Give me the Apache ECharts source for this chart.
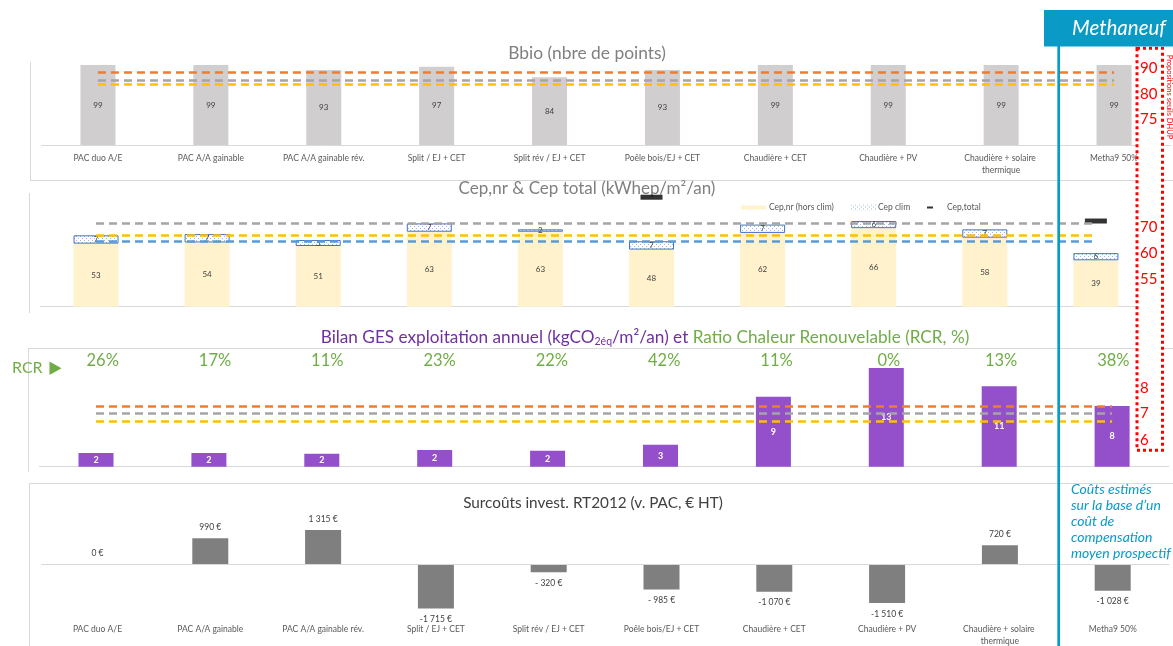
<!DOCTYPE html>
<html><head><meta charset="utf-8">
<script src="https://cdn.jsdelivr.net/npm/echarts@6/dist/echarts.min.js"></script>
<style>html,body{margin:0;padding:0;background:#fff}#c{width:1173px;height:646px}</style>
</head><body><div id="c"></div>
<script>
// ---------- DATA ----------
const categories = ['PAC duo A/E','PAC A/A gainable','PAC A/A gainable rév.','Split / EJ + CET','Split rév / EJ + CET','Poêle bois/EJ + CET','Chaudière + CET','Chaudière + PV','Chaudière + solaire thermique','Metha9 50%'];
const bbio = [99,99,93,97,84,93,99,99,99,99];
const bbioSeuils = [90,80,75];
const cepNr = [53,54,51,63,63,48,62,66,58,39];
const cepClim = [7,7,5,7,2,7,7,6,7,6];
const cepTotal = [null,null,null,null,null,92,null,null,null,72];
const cepSeuils = [70,60,55];
const ges = [1.8,1.8,1.7,2.2,2.1,2.9,9.2,13.0,10.6,8.0];
const gesSeuils = [8,7,6];
const rcr = [26,17,11,23,22,42,11,0,13,38];
const surcout = [0,990,1315,-1715,-320,-985,-1070,-1510,720,-1028];
const seuilLabels = ['90','80','75','70','60','55','8','7','6'];
const noteLines = ['Coûts estimés','sur la base d’un','coût de','compensation','moyen prospectif'];

// ---------- STYLE ----------
const FONT = 'Lato, "Open Sans", sans-serif';
const BLUE = '#0A9AC6';
const GREY_LINE = '#D9D9D9';
const C_OR = '#ED7D31', C_GR = '#A5A5A5', C_YE = '#FFC000', C_BL = '#5B9BD5';

const pc = document.createElement('canvas'); pc.width = 4; pc.height = 4;
const g = pc.getContext('2d');
g.fillStyle = '#ffffff'; g.fillRect(0,0,4,4);
g.fillStyle = '#9DB5E0'; g.fillRect(0,0,1,1); g.fillRect(2,2,1,1);

function seuilLines(vals, colors){
  return {
    silent: true, symbol: 'none', label: {show:false},
    lineStyle: {type:[8,5], width:2.5},
    data: vals.map((v,i)=>[
      {coord:[categories[0], v], lineStyle:{color:colors[i], type:[8,5], width:2.5}},
      {coord:[categories[categories.length-1], v]}
    ])
  };
}
function fmtEuro(v){
  const a = Math.abs(v);
  const s = a >= 1000 ? Math.floor(a/1000) + ' ' + String(a%1000).padStart(3,'0') : String(a);
  if (v < 0) return (a >= 1000 ? '-' : '- ') + s + ' €';
  return s + ' €';
}
const catLabel = {interval:0, fontFamily:FONT, fontSize:8.5, color:'#595959', width:100, overflow:'break', lineHeight:12};

const chart = echarts.init(document.getElementById('c'), null, {renderer:'canvas'});

const graphic = [];
function hline(x1,x2,y){ graphic.push({type:'line', silent:true, shape:{x1,y1:y,x2,y2:y}, style:{stroke:GREY_LINE, lineWidth:1}}); }
function vline(x,y1,y2){ graphic.push({type:'line', silent:true, shape:{x1:x,y1,x2:x,y2}, style:{stroke:GREY_LINE, lineWidth:1}}); }
vline(30.5,62,180); hline(30,1173,180.5);
vline(29.5,193,313);
hline(28,1173,348.5); vline(28.5,348,472);
hline(29,1173,483.5); vline(29.5,483,646);

function text(x,y,t,o){ graphic.push(Object.assign({type:'text', x, y, silent:true, style:Object.assign({text:t, fontFamily:FONT, align:'center', verticalAlign:'middle'}, o.style||{})}, o.el||{})); }
text(587,53,'Bbio (nbre de points)',{style:{fontSize:17.4, fill:'#808080'}});
text(587,189,'Cep,nr & Cep total (kWhep/m²/an)',{style:{fontSize:17, fill:'#808080'}});
graphic.push({type:'text', x:645, y:337, silent:true, style:{
  text:'{p|Bilan GES exploitation annuel (kgCO}{s|2éq}{p|/m²/an) et}{g| Ratio Chaleur Renouvelable (RCR, %)}',
  align:'center', verticalAlign:'middle', fontFamily:FONT,
  rich:{
    p:{fontFamily:FONT, fontSize:17.2, fill:'#7030A0', lineHeight:20},
    s:{fontFamily:FONT, fontSize:10.5, fill:'#7030A0', lineHeight:10, verticalAlign:'bottom'},
    g:{fontFamily:FONT, fontSize:17.2, fill:'#70AD47', lineHeight:20}
  }}});
text(593,503,'Surcoûts invest. RT2012 (v. PAC, € HT)',{style:{fontSize:15.3, fill:'#404040'}});
text(12,368,'RCR',{style:{fontSize:16, fill:'#70AD47', align:'left'}});
graphic.push({type:'polygon', silent:true, shape:{points:[[49.5,361.5],[49.5,375],[61.5,368.2]]}, style:{fill:'#70AD47'}});

// overlays (right side)
graphic.push({type:'rect', z:100, silent:true, shape:{x:1060,y:484.5,width:113,height:76}, style:{fill:'#fff'}});
graphic.push({type:'text', z:101, x:1071, y:481, silent:true, style:{text:noteLines.join('\n'), fontFamily:FONT, fontStyle:'italic', fontSize:14, lineHeight:16.2, fill:BLUE, align:'left', verticalAlign:'top'}});
graphic.push({type:'line', z:102, silent:true, shape:{x1:1058.7,y1:46,x2:1058.7,y2:646}, style:{stroke:BLUE, lineWidth:2.7}});
graphic.push({type:'rect', z:102, silent:true, shape:{x:1044,y:10,width:129,height:36.5}, style:{fill:BLUE}});
text(1119,28,'Methaneuf',{el:{z:103}, style:{fontSize:20.5, fontStyle:'italic', fill:'#fff'}});
graphic.push({type:'rect', z:100, silent:true, shape:{x:1137,y:48.2,width:25.5,height:402}, style:{fill:'#fff', stroke:'#FF0000', lineWidth:3, lineDash:[3,3]}});
const seuilY = [68,94,119,227,253,279,388,413,440];
seuilLabels.forEach((t,i)=> text(1140, seuilY[i], t, {el:{z:103}, style:{fontSize:15, fill:'#FF0000', align:'left'}}));
text(1169,97,'Propositions seuils DHUP',{el:{z:103, rotation:-Math.PI/2}, style:{fontSize:7.5, fill:'#FF0000'}});

const option = {
  animation:false,
  backgroundColor:'#fff',
  textStyle:{fontFamily:FONT},
  grid:[
    {left:41.5, width:1129, top:64.3, height:80.7, outerBoundsMode:'none', containLabel:false},
    {left:40.45, width:1111, top:187.7, height:119, outerBoundsMode:'none', containLabel:false},
    {left:39.55, width:1129, top:345.1, height:121.6, outerBoundsMode:'none', containLabel:false},
    {left:41.1, width:1128, top:512.2, height:103.6, outerBoundsMode:'none', containLabel:false},
    {left:46.55, width:1123, top:345.1, height:121.6, outerBoundsMode:'none', containLabel:false}
  ],
  xAxis:[
    {gridIndex:0, type:'category', data:categories, axisLine:{lineStyle:{color:GREY_LINE}}, axisTick:{show:false}, axisLabel:Object.assign({margin:7}, catLabel)},
    {gridIndex:1, type:'category', data:categories, axisLine:{lineStyle:{color:GREY_LINE}}, axisTick:{show:false}, axisLabel:{show:false}},
    {gridIndex:2, type:'category', data:categories, axisLine:{lineStyle:{color:GREY_LINE}}, axisTick:{show:false}, axisLabel:{show:false}},
    {gridIndex:3, type:'category', data:categories, axisLine:{show:false, onZero:false}, axisTick:{show:false}, axisLabel:Object.assign({margin:7.5}, catLabel)},
    {gridIndex:4, type:'category', position:'top', data:rcr.map(v=>v+'%'), axisLine:{show:false}, axisTick:{show:false},
      axisLabel:{interval:0, inside:true, margin:7, fontFamily:FONT, fontSize:16.5, color:'#70AD47'}}
  ],
  yAxis:[
    {gridIndex:0, type:'value', min:0, max:100, show:false},
    {gridIndex:1, type:'value', min:0, max:100, show:false},
    {gridIndex:2, type:'value', min:0, max:16, show:false},
    {gridIndex:3, type:'value', min:-2000, max:2000, show:false},
    {gridIndex:4, type:'value', min:0, max:1, show:false}
  ],
  legend:[
    {data:['Cep,nr (hors clim)'], left:741, top:203, icon:'rect', itemWidth:25, itemHeight:4, itemGap:0, padding:0,
      textStyle:{fontFamily:FONT, fontSize:8.5, color:'#595959', padding:[0,0,0,-2]}},
    {data:['Cep clim'], left:851, top:203, icon:'rect', itemWidth:26, itemHeight:6, itemGap:0, padding:0,
      itemStyle:{borderWidth:0}, textStyle:{fontFamily:FONT, fontSize:8.5, color:'#595959', padding:[0,0,0,-4]}},
    {data:['Cep,total'], left:927, top:203, icon:'rect', itemWidth:6, itemHeight:2, itemGap:0, padding:0,
      textStyle:{fontFamily:FONT, fontSize:8.5, color:'#595959', padding:[0,0,0,9]}}
  ],
  series:[
    {name:'Bbio', type:'bar', xAxisIndex:0, yAxisIndex:0, data:bbio, barWidth:35,
      itemStyle:{color:'#D0CECE'},
      label:{show:true, position:'inside', fontFamily:FONT, fontSize:8, color:'#404040'},
      markLine:seuilLines(bbioSeuils,[C_OR,C_GR,C_YE])},
    {name:'Cep,nr (hors clim)', type:'bar', stack:'cep', xAxisIndex:1, yAxisIndex:1, data:cepNr, barWidth:45,
      itemStyle:{color:'#FFF2CC'},
      label:{show:true, position:'inside', fontFamily:FONT, fontSize:8, color:'#404040'}},
    {name:'Cep clim', type:'bar', stack:'cep', xAxisIndex:1, yAxisIndex:1, data:cepClim, barWidth:45,
      itemStyle:{color:{image:pc, repeat:'repeat'}, borderColor:'#4472C4', borderWidth:1},
      label:{show:true, position:'inside', fontFamily:FONT, fontSize:8, color:'#404040'},
      markLine:seuilLines(cepSeuils,[C_GR,C_YE,C_BL])},
    {name:'Cep,total', type:'scatter', xAxisIndex:1, yAxisIndex:1, data:cepTotal, symbol:'rect', symbolSize:[22,5],
      itemStyle:{color:'#000'}},
    {name:'GES', type:'bar', xAxisIndex:2, yAxisIndex:2, data:ges, barWidth:35,
      itemStyle:{color:'#9450CA'},
      label:{show:true, position:'inside', fontFamily:FONT, fontSize:9, fontWeight:'bold', color:'#fff', formatter:p=>Math.round(p.value)},
      markLine:seuilLines(gesSeuils,[C_OR,C_GR,C_YE])},
    {name:'Surcoûts', type:'bar', xAxisIndex:3, yAxisIndex:3, barWidth:36,
      data:surcout.map(v=>({value:v, label:{position: v<0 ? 'bottom' : 'top'}})),
      itemStyle:{color:'#7F7F7F'},
      label:{show:true, distance:6.5, fontFamily:FONT, fontSize:8.5, color:'#404040', formatter:p=>fmtEuro(p.value)},
      markLine:{silent:true, symbol:'none', label:{show:false}, lineStyle:{color:GREY_LINE, type:'solid', width:1}, data:[{yAxis:0}]}}
  ],
  graphic: graphic
};
chart.setOption(option);
</script></body></html>
